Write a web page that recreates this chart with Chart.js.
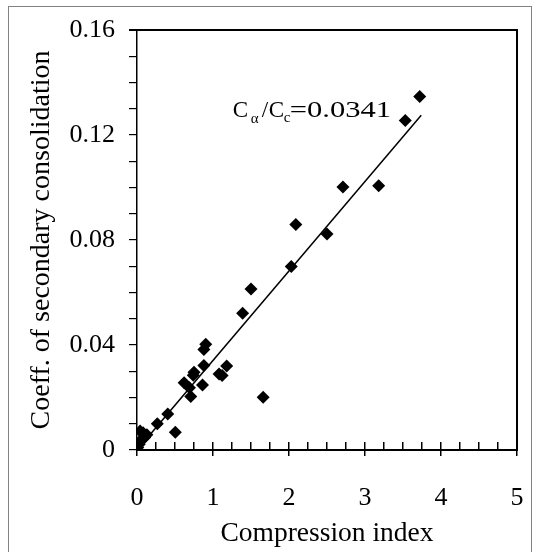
<!DOCTYPE html>
<html>
<head>
<meta charset="utf-8">
<script src="https://cdn.jsdelivr.net/npm/chart.js@4"></script>
<style>
  html, body { margin: 0; padding: 0; background: #fff; }
</style>
</head>
<body>
<canvas id="c" width="539" height="552"></canvas>
<script>
// ---- data ----
const compressionIndex = [3.72, 3.53, 3.18, 2.71, 2.50, 2.09, 2.03, 1.50, 1.39, 1.66,
  0.905, 0.88, 0.88, 1.18, 1.08, 1.12, 0.75, 0.74, 0.862, 0.62, 0.69, 0.707,
  0.405, 0.267, 0.504, 0.04, 0.08, 0.13, 0.10, 0.06, 0.03, 0.01];
const coeffSecondary = [0.1347, 0.1255, 0.1007, 0.1002, 0.0823, 0.0859, 0.0699, 0.0613, 0.0521, 0.0201,
  0.0403, 0.0383, 0.0322, 0.0320, 0.0290, 0.0284, 0.0296, 0.0285, 0.0248, 0.0256, 0.0237, 0.0204,
  0.0137, 0.0100, 0.0068, 0.0072, 0.0066, 0.0058, 0.0048, 0.0040, 0.0022, 0.0010];
const fitSlope = 0.0341;
const fitX = [0, 3.74];
const xTickLabels = ['0', '1', '2', '3', '4', '5'];
const yTickLabels = ['0', '0.04', '0.08', '0.12', '0.16'];
const xTitle = 'Compression index';
const yTitle = 'Coeff. of secondary consolidation';
const annotAnchor = [1.26, 0.127];

const SERIF = '"Liberation Serif", "Times New Roman", serif';

const points = compressionIndex.map((x, i) => ({ x: x, y: coeffSecondary[i] }));
const fitLine = fitX.map(x => ({ x: x, y: fitSlope * x }));

const framePlugin = {
  id: 'frame',
  afterDraw(chart) {
    const ctx = chart.ctx;
    const a = chart.chartArea;
    const xs = chart.scales.x, ys = chart.scales.y;
    const L = Math.round(a.left), R = Math.round(a.right);
    const T = Math.round(a.top), B = Math.round(a.bottom);
    ctx.save();
    ctx.globalAlpha = 1;
    ctx.globalCompositeOperation = 'source-over';
    ctx.fillStyle = 'rgb(0,0,0)';
    // top border (with a short stub left of the axis), right border, x axis line
    ctx.fillRect(L - 8, T - 1, R - L + 9, 2);
    ctx.fillRect(R - 1, T - 1, 2, B - T + 2);
    ctx.fillRect(L - 1, B - 1, R - L + 2, 2);
    // ticks on the x axis: minor go inward, major cross the axis
    for (let k = 0; k <= 20; k++) {
      const px = Math.round(xs.getPixelForValue(k * 0.25));
      const major = (k % 4 === 0);
      ctx.fillRect(px - 1, B - 8, 1.5, major ? 14 : 8);
    }
    // outer frame of the figure
    ctx.fillStyle = 'rgb(130,130,130)';
    ctx.fillRect(8, 6, 1, 546);
    ctx.fillRect(8, 6, 524, 1);
    ctx.fillRect(531, 6, 1, 546);
    // annotation  Cα/Cc=0.0341
    const ax = xs.getPixelForValue(annotAnchor[0]);
    const ay = ys.getPixelForValue(annotAnchor[1]);
    ctx.fillStyle = '#000';
    ctx.textBaseline = 'alphabetic';
    ctx.textAlign = 'left';
    ctx.font = '23px ' + SERIF;
    ctx.fillText('C', ax, ay);
    ctx.font = '15px ' + SERIF;
    ctx.fillText('\u03B1', ax + 18, ay + 6);
    ctx.font = '23px ' + SERIF;
    ctx.fillText('/', ax + 29, ay);
    ctx.fillText('C', ax + 36, ay);
    ctx.font = '15px ' + SERIF;
    ctx.fillText('c', ax + 51, ay + 5);
    ctx.font = '23px ' + SERIF;
    ctx.save();
    ctx.translate(ax + 57, ay);
    ctx.scale(1.33, 1);
    ctx.fillText('=0.0341', 0, 0);
    ctx.restore();
    ctx.restore();
  }
};

new Chart(document.getElementById('c'), {
  type: 'scatter',
  data: {
    datasets: [
      {
        label: 'data',
        data: points,
        pointStyle: 'rectRot',
        pointRadius: 6.5,
        pointHoverRadius: 6.5,
        backgroundColor: '#000',
        borderColor: '#000',
        borderWidth: 0
      },
      {
        type: 'line',
        label: 'fit',
        data: fitLine,
        borderColor: '#000',
        borderWidth: 1.5,
        pointRadius: 0,
        fill: false
      }
    ]
  },
  options: {
    responsive: false,
    animation: false,
    events: [],
    layout: { padding: { left: 0, right: 22, top: 30, bottom: 0 } },
    plugins: { legend: { display: false }, tooltip: { enabled: false } },
    scales: {
      x: {
        type: 'linear',
        min: 0, max: 5,
        afterFit(s) { s.height = 102; s.paddingLeft = 0; s.paddingRight = 0; },
        border: { display: false },
        grid: { display: false },
        ticks: {
          stepSize: 1,
          autoSkip: false,
          maxRotation: 0,
          padding: 25,
          color: '#000',
          font: { family: SERIF, size: 26 },
          callback: (v) => {
            const i = xTickLabels.indexOf(String(v));
            return i >= 0 ? xTickLabels[i] : '';
          }
        },
        title: {
          display: true,
          text: xTitle,
          color: '#000',
          font: { family: SERIF, size: 27.5 },
          padding: { top: 0, bottom: 2 }
        }
      },
      y: {
        type: 'linear',
        min: 0, max: 0.16,
        afterFit(s) { s.width = 137; s.paddingTop = 0; s.paddingBottom = 0; },
        border: { display: true, color: '#000', width: 1.5 },
        grid: { drawOnChartArea: false, drawTicks: true, tickLength: 8, color: '#000', lineWidth: 1.2 },
        ticks: {
          stepSize: 0.01,
          autoSkip: false,
          padding: 14,
          color: '#000',
          font: { family: SERIF, size: 26 },
          callback: (v) => {
            const r = Math.round(v * 100);
            if (r % 4 !== 0) return '';
            return yTickLabels[r / 4];
          }
        },
        title: {
          display: true,
          text: yTitle,
          color: '#000',
          font: { family: SERIF, size: 28 },
          padding: { top: 25, bottom: 0 }
        }
      }
    }
  },
  plugins: [framePlugin]
});
</script>
</body>
</html>
